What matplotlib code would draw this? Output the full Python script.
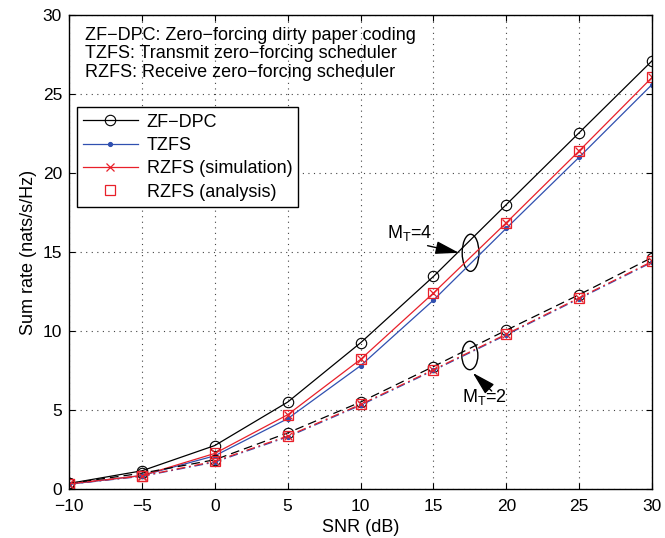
import matplotlib
matplotlib.use("Agg")
import matplotlib.pyplot as plt
from matplotlib.patches import Ellipse

plt.rcParams['font.family'] = ['Liberation Sans', 'DejaVu Sans']

snr = [-10, -5, 0, 5, 10, 15, 20, 25, 30]

# M_T = 4
zfdpc_4 = [0.35, 1.15, 2.75, 5.5, 9.25, 13.45, 18.0, 22.55, 27.1]
tzfs_4 = [0.3, 0.85, 2.1, 4.45, 7.8, 11.95, 16.5, 21.0, 25.6]
rzfs_sim_4 = [0.32, 0.85, 2.25, 4.7, 8.2, 12.4, 16.85, 21.4, 26.05]
rzfs_ana_4 = [0.32, 0.85, 2.25, 4.7, 8.2, 12.4, 16.85, 21.4, 26.05]

# M_T = 2
zfdpc_2 = [0.35, 1.0, 1.85, 3.55, 5.5, 7.75, 10.05, 12.3, 14.65]
tzfs_2 = [0.3, 0.8, 1.7, 3.3, 5.3, 7.5, 9.75, 12.05, 14.35]
rzfs_sim_2 = [0.32, 0.82, 1.75, 3.35, 5.35, 7.55, 9.8, 12.1, 14.4]
rzfs_ana_2 = [0.32, 0.82, 1.75, 3.35, 5.35, 7.55, 9.8, 12.1, 14.4]

xticks = [-10, -5, 0, 5, 10, 15, 20, 25, 30]
yticks = [0, 5, 10, 15, 20, 25, 30]

fig = plt.figure(figsize=(6.65, 5.38), dpi=100)
ax = fig.add_axes([0.1038, 0.0911, 0.8767, 0.881])

blue = '#3050b0'
red = '#e8202a'
lw = 0.9
dashdot = (0, (7, 3, 1.5, 3))

# M_T = 4 (solid)
ax.plot(snr, zfdpc_4, '-', color='black', lw=lw, marker='o', ms=7.5, mfc='none', mew=0.8, label='ZF\u2212DPC')
ax.plot(snr, tzfs_4, '-', color=blue, lw=lw, marker='.', ms=5.5, label='TZFS')
ax.plot(snr, rzfs_sim_4, '-', color=red, lw=lw, marker='x', ms=6, mew=0.9, label='RZFS (simulation)')
ax.plot(snr, rzfs_ana_4, color=red, marker='s', ms=6.5, mfc='none', mec=red, mew=0.9, linestyle='none', label='RZFS (analysis)')

# M_T = 2 (dashed / dash-dot)
ax.plot(snr, zfdpc_2, color='black', lw=lw, ls=(0, (7, 4)), marker='o', ms=7.5, mfc='none', mew=0.8)
ax.plot(snr, tzfs_2, color=blue, lw=lw, ls=dashdot, marker='.', ms=5.5)
ax.plot(snr, rzfs_sim_2, color=red, lw=lw, ls=dashdot, marker='x', ms=6, mew=0.9)
ax.plot(snr, rzfs_ana_2, color=red, marker='s', ms=6.5, mfc='none', mec=red, mew=0.9, linestyle='none')

ax.set_xlim(-10, 30)
ax.set_ylim(0, 30)
ax.set_xticks(xticks)
ax.set_yticks(yticks)
ax.tick_params(direction='in', top=True, right=True, labelsize=12.5, length=4)
ax.tick_params(axis='x', pad=7)
ax.tick_params(axis='y', pad=5)
ax.grid(True, ls=(0, (1, 4)), color='#444444', lw=0.8)
for s in ax.spines.values():
    s.set_linewidth(1.0)

ax.set_xlabel('SNR (dB)', fontsize=13, labelpad=4)
ax.set_ylabel('Sum rate (nats/s/Hz)', fontsize=13, labelpad=4)

ax.text(0.028, 0.975, 'ZF\u2212DPC: Zero\u2212forcing dirty paper coding\n'
        'TZFS: Transmit zero\u2212forcing scheduler\n'
        'RZFS: Receive zero\u2212forcing scheduler',
        transform=ax.transAxes, va='top', ha='left', fontsize=13, linespacing=1.12)

leg = ax.legend(loc='upper left', bbox_to_anchor=(0.0137, 0.805), fontsize=13,
                frameon=True, fancybox=False, edgecolor='black', framealpha=1,
                handlelength=3.0, handletextpad=0.5, borderpad=0.35, labelspacing=0.35,
                borderaxespad=0)
leg.get_frame().set_linewidth(1.0)

# annotations
arrow = dict(arrowstyle='-|>,head_length=0.8,head_width=0.22', color='black', lw=1.0,
             mutation_scale=18, shrinkA=0, shrinkB=0)
ax.add_patch(Ellipse((17.55, 14.95), 1.15, 2.35, fill=False, ec='black', lw=1.0))
ax.add_patch(Ellipse((17.5, 8.45), 1.1, 1.8, fill=False, ec='black', lw=1.0))
ax.text(11.8, 15.9, 'M$_\\mathregular{T}$=4', fontsize=13, va='baseline', ha='left')
ax.annotate('', xy=(16.75, 14.95), xytext=(14.6, 15.4), arrowprops=arrow)
ax.text(16.95, 5.5, 'M$_\\mathregular{T}$=2', fontsize=13, va='baseline', ha='left')
ax.annotate('', xy=(17.7, 7.35), xytext=(19.0, 6.2), arrowprops=arrow)

fig.savefig('out.png', dpi=100)
